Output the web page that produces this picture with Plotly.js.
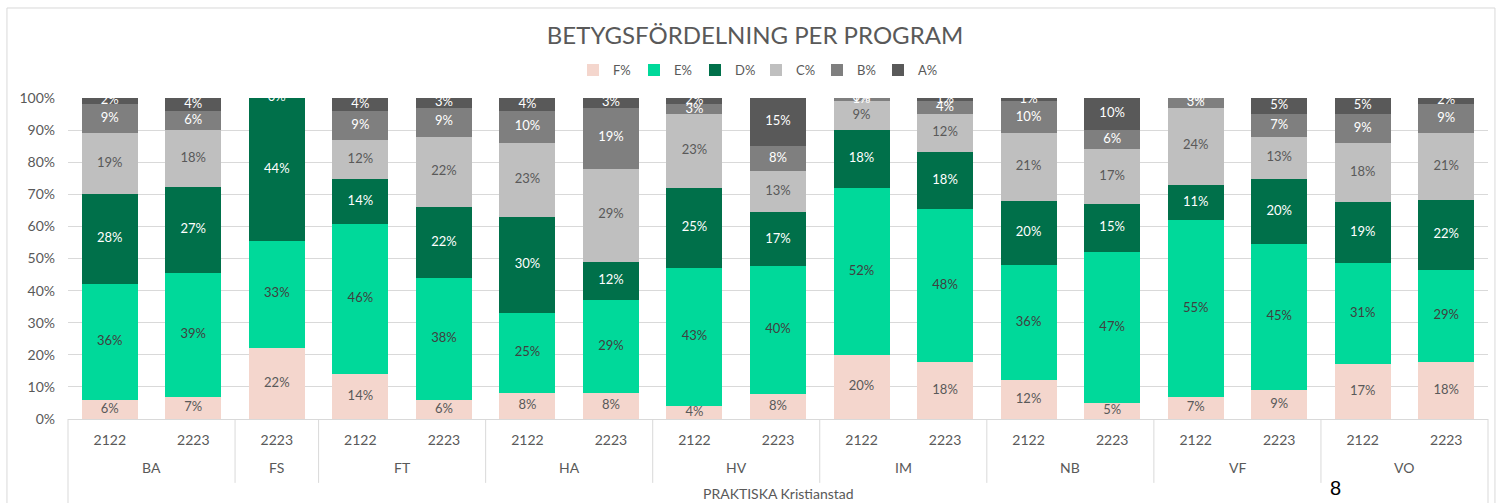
<!DOCTYPE html>
<html>
<head>
<meta charset="utf-8">
<script src="https://cdn.plot.ly/plotly-3.0.1.min.js"></script>
<style>html,body{margin:0;padding:0;background:#fff;}#chart{width:1496px;height:503px;}</style>
</head>
<body>
<div id="chart"></div>
<script>
// ---- Data ----
const programs = ['BA','BA','FS','FT','FT','HA','HA','HV','HV','IM','IM','NB','NB','VF','VF','VO','VO'];
const years    = ['2122','2223','2223','2122','2223','2122','2223','2122','2223','2122','2223','2122','2223','2122','2223','2122','2223'];
const seriesNames = ['F%','E%','D%','C%','B%','A%'];
const F = [6, 7, 22, 14, 6, 8, 8, 4, 8, 20, 18, 12, 5, 7, 9, 17, 18];
const E = [36, 39, 33, 46, 38, 25, 29, 43, 40, 52, 48, 36, 47, 55, 45, 31, 29];
const D = [28, 27, 44, 14, 22, 30, 12, 25, 17, 18, 18, 20, 15, 11, 20, 19, 22];
const C = [19, 18, null, 12, 22, 23, 29, 23, 13, 9, 12, 21, 17, 24, 13, 18, 21];
const B = [9, 6, null, 9, 9, 10, 19, 3, 8, 1, 4, 10, 6, 3, 7, 9, 9];
const A = [2, 4, 0, 4, 3, 4, 3, 2, 15, 0, 1, 1, 10, 0, 5, 5, 2];
const outerLabel = 'PRAKTISKA Kristianstad';
const chartTitle = 'BETYGSFÖRDELNING PER PROGRAM';

// ---- Styles ----
const seriesValues = [F, E, D, C, B, A];
const colors = ['#f4d6cd', '#00d99a', '#00704a', '#bfbfbf', '#7f7f7f', '#595959'];
const labelColors = ['#595959', '#404040', '#ffffff', '#595959', '#ffffff', '#ffffff'];
const FONT = 'Lato, "Open Sans", sans-serif';
const GREY = '#595959';
const LINE = '#d9d9d9';

const n = years.length;
const xs = years.map((_, i) => i);
const totals = xs.map(i => seriesValues.reduce((s, arr) => s + (arr[i] || 0), 0));

const traces = [];
seriesValues.forEach((vals, k) => {
  traces.push({
    type: 'bar', name: seriesNames[k], x: xs, y: vals,
    marker: {color: colors[k], line: {width: 0}},
    hoverinfo: 'skip'
  });
});
// segment labels centered on each (normalised) segment
const cum = xs.map(() => 0);
seriesValues.forEach((vals, k) => {
  const ys = [], txt = [], xx = [];
  xs.forEach(i => {
    const v = vals[i];
    if (v === null || v === undefined) return;
    const start = cum[i];
    cum[i] += v;
    xx.push(i);
    ys.push((start + v / 2) / totals[i] * 100);
    txt.push(v + '%');
  });
  traces.push({
    type: 'scatter', mode: 'text', x: xx, y: ys, text: txt,
    textposition: 'middle center',
    textfont: {family: FONT, size: 13, color: labelColors[k]},
    showlegend: false, hoverinfo: 'skip', cliponaxis: false
  });
});

// group positions
const groups = [];
programs.forEach((p, i) => {
  if (!groups.length || groups[groups.length - 1].name !== p) groups.push({name: p, first: i, last: i});
  else groups[groups.length - 1].last = i;
});
const xmin = -0.5, xmax = n - 0.5;
const toPaper = v => (v - xmin) / (xmax - xmin);

const shapes = [];
groups.forEach((g, gi) => {
  if (gi === 0) return;
  const xp = toPaper(g.first - 0.5);
  shapes.push({type: 'line', xref: 'paper', yref: 'paper', x0: xp, x1: xp, y0: 0, y1: -0.199,
    line: {color: LINE, width: 1}});
});
[0, 1].forEach(xp => shapes.push({type: 'line', xref: 'paper', yref: 'paper', x0: xp, x1: xp, y0: 0, y1: -0.30,
  line: {color: LINE, width: 1}}));
// chart border
shapes.push({type: 'rect', xref: 'paper', yref: 'paper', x0: -0.043, x1: 1.0049, y0: 1.2804, y1: -0.30,
  line: {color: LINE, width: 1}, fillcolor: 'rgba(0,0,0,0)'});

const annotations = groups.map(g => ({
  xref: 'x', yref: 'paper', x: (g.first + g.last) / 2, y: -0.1526, yanchor: 'middle',
  text: g.name, showarrow: false, font: {family: FONT, size: 14, color: GREY}
}));
annotations.push({xref: 'paper', yref: 'paper', x: 0.5, y: -0.2336, yanchor: 'middle',
  text: outerLabel, showarrow: false, font: {family: FONT, size: 14, color: GREY}});
annotations.push({xref: 'paper', yref: 'paper', x: 0.8979, y: -0.215, yanchor: 'middle',
  text: '8', showarrow: false, font: {family: '"Liberation Sans", sans-serif', size: 20, color: '#000'}});

const layout = {
  width: 1496, height: 503,
  margin: {l: 68, r: 8, t: 98, b: 84},
  paper_bgcolor: '#fff', plot_bgcolor: '#fff',
  barmode: 'stack', barnorm: 'percent', bargap: 0.33,
  title: {text: chartTitle, x: 0.5047, xref: 'container', y: 0.93, yref: 'container', yanchor: 'middle',
    font: {family: FONT, size: 24, color: GREY}},
  showlegend: true,
  legend: {orientation: 'h', x: 0.4845, xanchor: 'center', y: 1.087, yanchor: 'middle',
    font: {family: FONT, size: 13, color: GREY}, entrywidth: 16, entrywidthmode: 'pixels',
    itemwidth: 30, traceorder: 'normal'},
  xaxis: {type: 'linear', range: [xmin, xmax], tickvals: xs, ticktext: years, showgrid: false,
    zeroline: false, showline: true, linecolor: LINE, linewidth: 1, ticks: '',
    ticklabelstandoff: 8, tickfont: {family: FONT, size: 14, color: GREY}, fixedrange: true},
  yaxis: {range: [0, 100], dtick: 10, ticksuffix: '%', showgrid: true, gridcolor: LINE, gridwidth: 1,
    zeroline: false, showline: false, ticks: '', ticklabelstandoff: 12,
    tickfont: {family: FONT, size: 14, color: GREY}, fixedrange: true},
  shapes: shapes, annotations: annotations,
  font: {family: FONT, color: GREY}
};

Plotly.newPlot('chart', traces, layout, {staticPlot: true, displayModeBar: false});
</script>
</body>
</html>
